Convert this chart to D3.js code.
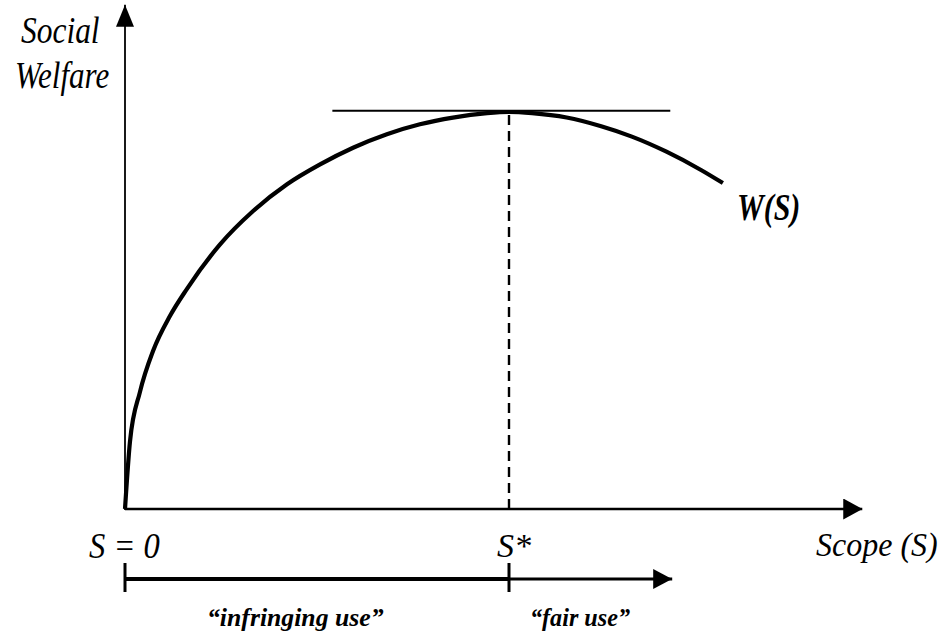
<!DOCTYPE html>
<html>
<head>
<meta charset="utf-8">
<script src="https://cdn.jsdelivr.net/npm/d3@7"></script>
<style>
  body { margin: 0; background: #fff; }
  .lbl { font-family: 'Liberation Serif' !important; font-style: italic; fill: #000; }
  .lbl.b { font-weight: bold; }
</style>
</head>
<body>
<svg width="942" height="643"></svg>
<script>
// welfare curve W(S) (S* = 100, W(S*) = 100)
const scopeValues   = [0, 1.3, 3.9, 7.3, 11.7, 16.1, 24.7, 33.3, 42.2, 50.8, 59.4, 68.2, 76.8, 85.4, 94.3, 100, 106, 115, 124, 132, 141, 150, 155.7];
const welfareValues = [0, 17.0, 29.5, 39.8, 48.6, 55.4, 66.6, 75.0, 81.8, 86.8, 91.0, 94.4, 96.9, 98.6, 99.7, 100, 99.7, 98.6, 96.4, 93.8, 90.0, 85.4, 82.1];
const sStar = 100;
const tangentRange = [54, 142];
const tangentLevel = 100.3;
const xAxisEnd = 192;
const yAxisEnd = 127;
const rangeArrowEnd = 142.5;
const tickLabels = ['S = 0', 'S*'];
const axisLabels = ['Social', 'Welfare', 'Scope (S)'];
const curveLabel = 'W(S)';
const regionLabels = ['\u201cinfringing use\u201d', '\u201cfair use\u201d'];

const svg = d3.select('svg');
const data = scopeValues.map((s, i) => ({s: s, w: welfareValues[i]}));

const xScale = d3.scaleLinear().domain([0, 200]).range([125, 893]);
const yScale = d3.scaleLinear().domain([0, 100]).range([509, 112]);

// arrow heads
const defs = svg.append('defs');
const arrow = (id, len, half) => {
  defs.append('marker')
    .attr('id', id)
    .attr('markerUnits', 'userSpaceOnUse')
    .attr('markerWidth', len).attr('markerHeight', half * 2)
    .attr('refX', len).attr('refY', half)
    .attr('orient', 'auto')
    .append('path')
      .attr('d', `M0,0L${len},${half}L0,${half * 2}Z`)
      .attr('fill', '#000');
};
arrow('ax', 19, 10.5);
arrow('ay', 22, 9);
arrow('ar', 19, 10);

// labels first, straight on the svg (Times-like italic, squeezed a bit)
const label = (txt, x, y, size, sx, bold) => svg.append('text')
  .attr('class', bold ? 'lbl b' : 'lbl')
  .attr('x', x / sx).attr('y', y)
  .attr('transform', `scale(${sx},1)`)
  .style('font-size', size + 'px')
  .text(txt);

label(axisLabels[0], 21, 43, 37, 0.85, false);
label(axisLabels[1], 15, 88, 37, 0.84, false);
label(axisLabels[2], 816, 556, 33, 0.97, false);
label(tickLabels[0], xScale(0) - 36, 558, 35, 0.93, false);
label(tickLabels[1], xScale(sStar) - 12, 557, 34, 1, false);
label(curveLabel, 737, 220, 38, 0.79, true);
label(regionLabels[0], 207, 626, 26, 0.99, true);
label(regionLabels[1], 530, 626, 26, 0.93, true);

// axes
svg.append('line')
  .attr('x1', xScale(0)).attr('y1', yScale(0))
  .attr('x2', xScale(xAxisEnd)).attr('y2', yScale(0))
  .attr('stroke', '#000').attr('stroke-width', 2.6)
  .attr('marker-end', 'url(#ax)');

svg.append('line')
  .attr('x1', xScale(0)).attr('y1', yScale(0) + 1)
  .attr('x2', xScale(0)).attr('y2', yScale(yAxisEnd))
  .attr('stroke', '#000').attr('stroke-width', 1.8)
  .attr('marker-end', 'url(#ay)');

// dashed line at S*
svg.append('line')
  .attr('x1', xScale(sStar)).attr('y1', yScale(0))
  .attr('x2', xScale(sStar)).attr('y2', yScale(100))
  .attr('stroke', '#000').attr('stroke-width', 2.4)
  .attr('stroke-dasharray', '10,6');

// tangent at the top
svg.append('line')
  .attr('x1', xScale(tangentRange[0])).attr('y1', yScale(tangentLevel))
  .attr('x2', xScale(tangentRange[1])).attr('y2', yScale(tangentLevel))
  .attr('stroke', '#000').attr('stroke-width', 2);

// the curve
const line = d3.line()
  .x(d => xScale(d.s))
  .y(d => yScale(d.w))
  .curve(d3.curveMonotoneX);

svg.append('path')
  .datum(data)
  .attr('d', line)
  .attr('fill', 'none')
  .attr('stroke', '#000')
  .attr('stroke-width', 4.2);

// scope range arrow under the axis
const rangeY = 579;
svg.append('line')
  .attr('x1', xScale(0)).attr('y1', rangeY)
  .attr('x2', xScale(sStar)).attr('y2', rangeY)
  .attr('stroke', '#000').attr('stroke-width', 3.8);
svg.append('line')
  .attr('x1', xScale(sStar)).attr('y1', rangeY)
  .attr('x2', xScale(rangeArrowEnd)).attr('y2', rangeY)
  .attr('stroke', '#000').attr('stroke-width', 2.8)
  .attr('marker-end', 'url(#ar)');

svg.selectAll('.rtick').data([0, sStar])
  .enter().append('line')
    .attr('class', 'rtick')
    .attr('x1', d => xScale(d)).attr('x2', d => xScale(d))
    .attr('y1', 563).attr('y2', 592)
    .attr('stroke', '#000').attr('stroke-width', 3);
</script>
</body>
</html>
